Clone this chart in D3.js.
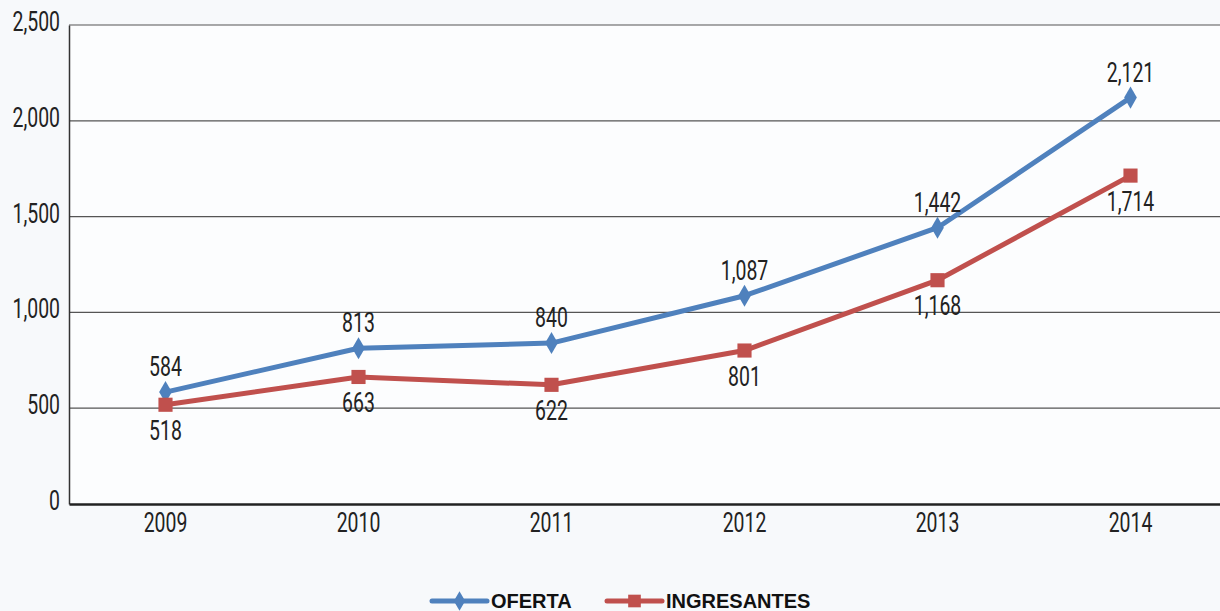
<!DOCTYPE html>
<html>
<head>
<meta charset="utf-8">
<script src="https://cdn.jsdelivr.net/npm/d3@7"></script>
<style>
  body { margin: 0; background: #f7f9fb; }
  svg { display: block; }
  .tick text, .lbl { font-family: Roboto, "DejaVu Sans", sans-serif; font-size: 27px; fill: #222; }
  .legend text { font-family: "Liberation Sans", Arial, sans-serif; font-weight: bold; font-size: 20px; fill: #111; }
</style>
</head>
<body>
<div id="chart"></div>
<script>
// data
var years = ["2009", "2010", "2011", "2012", "2013", "2014"];
var oferta = [584, 813, 840, 1087, 1442, 2121];
var ingresantes = [518, 663, 622, 801, 1168, 1714];
var yTicks = [0, 500, 1000, 1500, 2000, 2500];

var svgWidth = 1220, svgHeight = 611;
var margin = { top: 25, right: -7, bottom: 107, left: 69 };
var chartWidth = svgWidth - margin.left - margin.right;
var chartHeight = svgHeight - margin.top - margin.bottom;

// squeeze a text horizontally to look like a condensed face
function condense(sel, k) {
  sel.each(function() {
    var len = this.getComputedTextLength();
    d3.select(this).attr("textLength", len * k).attr("lengthAdjust", "spacingAndGlyphs");
  });
}

var svg = d3.select("#chart").append("svg")
  .attr("width", svgWidth)
  .attr("height", svgHeight);

var chartGroup = svg.append("g")
  .attr("transform", `translate(${margin.left}, ${margin.top})`);

// plot background
chartGroup.append("rect")
  .attr("width", chartWidth)
  .attr("height", chartHeight)
  .attr("fill", "#fcfdfe");

var xScale = d3.scaleBand().domain(years).range([0, chartWidth]);
var yScale = d3.scaleLinear().domain([0, 2500]).range([chartHeight, 0]);
var xc = d => xScale(d) + xScale.bandwidth() / 2;

// gridlines
chartGroup.append("g").selectAll("line")
  .data(yTicks.filter(d => d > 0))
  .enter().append("line")
  .attr("x1", 0).attr("x2", chartWidth)
  .attr("y1", d => yScale(d)).attr("y2", d => yScale(d))
  .attr("stroke", "#555").attr("stroke-width", 1.2);

// y axis
var leftAxis = d3.axisLeft(yScale).tickValues(yTicks).tickSize(0).tickPadding(9)
  .tickFormat(d3.format(","));
var yAxis = chartGroup.append("g").call(leftAxis);
yAxis.select(".domain").attr("stroke", "#333").attr("stroke-width", 1.5);
yAxis.selectAll(".tick text").attr("dy", "0.2em").call(condense, 0.72);

// x axis
var bottomAxis = d3.axisBottom(xScale).tickSize(0).tickPadding(9);
var xAxis = chartGroup.append("g")
  .attr("transform", `translate(0, ${chartHeight})`)
  .call(bottomAxis);
xAxis.select(".domain").attr("stroke", "#222").attr("stroke-width", 2.5);
xAxis.selectAll(".tick text").call(condense, 0.72);

var line = d3.line().x((d, i) => xc(years[i])).y(d => yScale(d));

var series = [
  { name: "OFERTA", values: oferta, color: "#4f81bd", symbol: d3.symbolDiamond, size: 140, above: true },
  { name: "INGRESANTES", values: ingresantes, color: "#c0504d", symbol: d3.symbolSquare, size: 200, above: false }
];

series.forEach(function(s) {
  chartGroup.append("path")
    .datum(s.values)
    .attr("d", line)
    .attr("fill", "none")
    .attr("stroke", s.color)
    .attr("stroke-width", 5)
    .attr("stroke-linejoin", "round");

  chartGroup.append("g").selectAll("path")
    .data(s.values)
    .enter().append("path")
    .attr("d", d3.symbol().type(s.symbol).size(s.size))
    .attr("transform", (d, i) => `translate(${xc(years[i])}, ${yScale(d)})`)
    .attr("fill", s.color);

  chartGroup.append("g").selectAll("text")
    .data(s.values)
    .enter().append("text")
    .attr("class", "lbl")
    .attr("text-anchor", "middle")
    .attr("x", (d, i) => xc(years[i]))
    .attr("y", d => s.above ? yScale(d) - 16 : yScale(d) + 35)
    .text(d => d3.format(",")(d))
    .call(condense, 0.72);
});

// legend
var legend = svg.append("g").attr("class", "legend");
var legendItems = [
  { s: series[0], x: 432 },
  { s: series[1], x: 607 }
];
legendItems.forEach(function(it) {
  var g = legend.append("g").attr("transform", `translate(${it.x}, 601)`);
  g.append("line").attr("x1", 0).attr("x2", 55).attr("y1", 0).attr("y2", 0)
    .attr("stroke", it.s.color).attr("stroke-width", 5).attr("stroke-linecap", "round");
  g.append("path").attr("d", d3.symbol().type(it.s.symbol).size(it.s.size * 0.8))
    .attr("transform", "translate(27.5,0)").attr("fill", it.s.color);
  g.append("text").attr("x", 59).attr("y", 7).text(it.s.name);
});
</script>
</body>
</html>
